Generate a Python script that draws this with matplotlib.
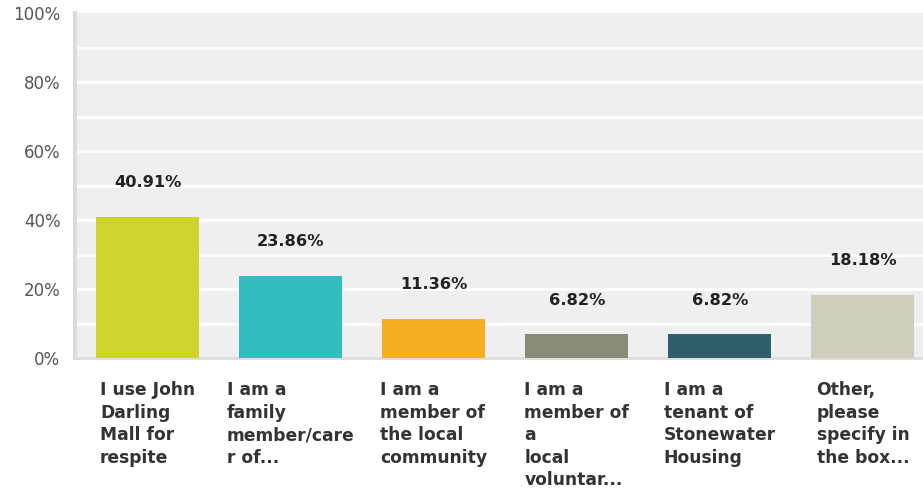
import matplotlib
matplotlib.use("Agg")
import matplotlib.pyplot as plt
from matplotlib.transforms import blended_transform_factory

categories = [
    "I use John\nDarling\nMall for\nrespite",
    "I am a\nfamily\nmember/care\nr of...",
    "I am a\nmember of\nthe local\ncommunity",
    "I am a\nmember of\na\nlocal\nvoluntar...",
    "I am a\ntenant of\nStonewater\nHousing",
    "Other,\nplease\nspecify in\nthe box...",
]
values = [40.91, 23.86, 11.36, 6.82, 6.82, 18.18]
colors = ["#cfd42a", "#33bdc0", "#f5ae22", "#8a8a78", "#2e5f6b", "#cfcdbe"]
yticks = [0, 20, 40, 60, 80, 100]
ytick_labels = ["0%", "20%", "40%", "60%", "80%", "100%"]

plt.rcParams["font.family"] = ["DejaVu Sans"]

W, H = 923, 488
fig = plt.figure(figsize=(W / 100, H / 100), dpi=100)
ax = fig.add_axes([75 / W, (H - 358) / H, (W - 75) / W, (358 - 13) / H])
ax.set_facecolor("#efefef")

x = list(range(len(values)))
bar_w = 0.72
ax.bar(x, values, width=bar_w, color=colors, zorder=3)

ax.set_ylim(0, 100)
ax.set_xlim(-0.507, 5.42)

# white horizontal grid every 10%
for g in range(10, 100, 10):
    ax.axhline(g, color="white", lw=2, zorder=1)

for s in ["top", "right"]:
    ax.spines[s].set_visible(False)
ax.spines["left"].set_color("#dcdcdc")
ax.spines["left"].set_linewidth(3)
ax.spines["bottom"].set_color("#dcdcdc")
ax.spines["bottom"].set_linewidth(2)

ax.set_yticks(yticks)
ax.set_yticklabels(ytick_labels, fontsize=12, color="#555555")
ax.tick_params(axis="y", length=0, pad=10.5)
ax.set_xticks([])

for xi, v in zip(x, values):
    ax.annotate(f"{v:.2f}%", (xi, v), xytext=(0, 24.8), textcoords="offset points",
                ha="center", va="center", fontsize=11.7, fontweight="bold", color="#222222")

trans = blended_transform_factory(ax.transData, ax.transAxes)
for xi, lab in zip(x, categories):
    ax.text(xi, -0.068, lab, transform=trans, ha="center", va="top",
            multialignment="left", fontsize=12.3, fontweight="bold",
            color="#333333", linespacing=1.32)

fig.savefig("out.png", dpi=100, facecolor="white")
